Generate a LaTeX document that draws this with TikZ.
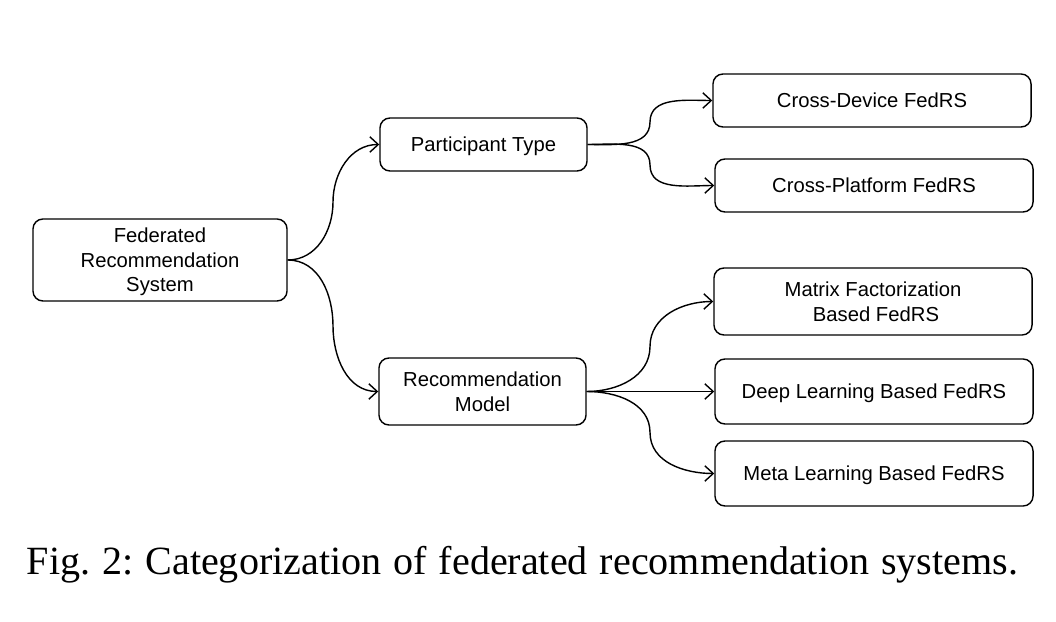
\documentclass[tikz,border=0pt]{standalone}
\usepackage{fontspec}
\setmainfont{Liberation Serif}
\newfontfamily\boxfont{Liberation Sans}
\usetikzlibrary{arrows.meta}

\begin{document}
\frenchspacing
\begin{tikzpicture}[x=0.025cm, y=-0.025cm, line width=1pt,
  box/.style={draw, rounded corners=0.25cm, align=center, inner sep=0pt, text depth=0pt,
    font=\boxfont\fontsize{14.4}{17.5}\selectfont},
  leaf/.style={minimum width=7.95cm},
  link/.style={-{Straight Barb[length=6pt, width=11pt]}}]
  \useasboundingbox (0,0) rectangle (1056,622);

  % tree nodes
  \node[box, minimum width=6.35cm, minimum height=2.05cm] (frs) at (160,260) {Federated\\Recommendation\\System};
  \node[box, minimum width=5.175cm, minimum height=1.325cm] (ptype) at (483.5,144.5) {Participant Type};
  \node[box, minimum width=5.175cm, minimum height=1.675cm] (rmodel) at (482.5,391.5) {Recommendation\\Model};
  \node[box, leaf, minimum height=1.325cm] (xdev) at (872,100.5) {Cross-Device FedRS};
  \node[box, leaf, minimum height=1.325cm] (xplat) at (874,185.5) {Cross-Platform FedRS};
  \node[box, leaf, minimum height=1.675cm] (mf) at (873,301.5) {Matrix Factorization\\\hspace{0.15cm}Based FedRS};
  \node[box, leaf, minimum height=1.625cm] (dl) at (874,391.5) {Deep Learning Based FedRS};
  \node[box, leaf, minimum height=1.625cm] (ml) at (874,473.5) {Meta Learning Based FedRS};

  % bends of the curved links
  \coordinate (b1) at (333,202);
  \coordinate (b2) at (333,326);
  \coordinate (b3) at (650,122);
  \coordinate (b4) at (650,165);
  \coordinate (b5) at (650,346.5);
  \coordinate (b6) at (650,432.5);

  \draw[link] (frs.east) to[out=0,in=-90] (b1) to[out=90,in=180] (ptype.west);
  \draw[link] (frs.east) to[out=0,in=90] (b2) to[out=-90,in=180] (rmodel.west);
  \draw[link] (ptype.east) to[out=0,in=-90] (b3) to[out=90,in=180] (xdev.west);
  \draw[link] (ptype.east) to[out=0,in=90] (b4) to[out=-90,in=180] (xplat.west);
  \draw[link] (rmodel.east) to[out=0,in=-90] (b5) to[out=90,in=180] (mf.west);
  \draw[link] (rmodel.east) -- (dl.west);
  \draw[link] (rmodel.east) to[out=0,in=90] (b6) to[out=-90,in=180] (ml.west);

  % caption
  \node[anchor=base, inner sep=0pt, font=\fontsize{28.5}{34}\selectfont] (cap) at (522.5,574)
    {\makebox[24.775cm][s]{Fig. 2: Categorization of federated recommendation systems.}};
\end{tikzpicture}
\end{document}
